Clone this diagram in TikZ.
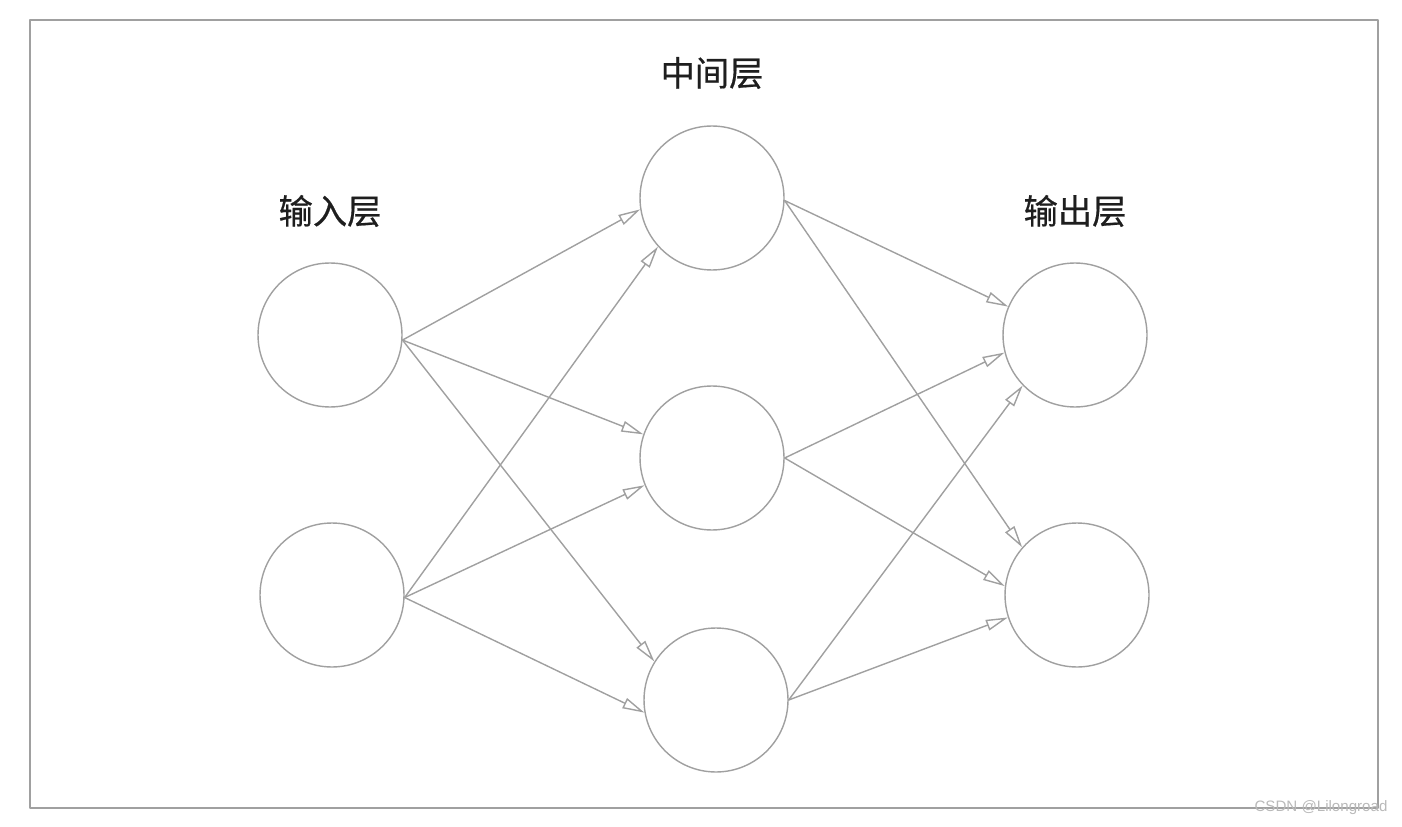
\documentclass[tikz,border=0pt]{standalone}
\usepackage{fontspec}
\newfontfamily\cjk[FakeBold=0.6]{Noto Sans CJK SC}
\setsansfont{Liberation Sans}
\usetikzlibrary{arrows.meta}
\definecolor{linegray}{RGB}{160,160,160}
\definecolor{markgray}{RGB}{185,185,185}
\definecolor{textdark}{RGB}{30,30,30}
\begin{document}
\begin{tikzpicture}[x=0.02cm, y=-0.02cm, line join=round, line cap=round,
		neuron/.style={circle, draw=linegray, line width=0.8pt, minimum size=2.88cm, inner sep=0pt},
		layer/.style={font=\cjk\fontsize{19.5}{19.5}\selectfont, text=textdark},
		link/.style={draw=linegray, line width=0.8pt, -{Triangle[open, length=0.44cm, width=0.22cm]}}]
			\useasboundingbox (0,0) rectangle (1402,827);
			\draw[linegray, line width=0.8pt] (30,20) rectangle (1378,808);
			% layers
			\node[neuron] (i1) at (330,335) {};
			\node[neuron] (i2) at (332,595) {};
			\node[neuron] (h1) at (712,198) {};
			\node[neuron] (h2) at (712,458) {};
			\node[neuron] (h3) at (716,700) {};
			\node[neuron] (o1) at (1075,335) {};
			\node[neuron] (o2) at (1077,595) {};
			\node[layer] (tin) at (330,211) {输入层};
			\node[layer] (tmid) at (712,73) {中间层};
			\node[layer] (tout) at (1075,211) {输出层};
			% connections
			\draw[link] (i1.-4) -- (h1.189);
			\draw[link] (i1.-4) -- (h2.161);
			\draw[link] (i1.-4) -- (h3.148);
			\draw[link] (i2.-2) -- (h1.222);
			\draw[link] (i2.-2) -- (h2.202);
			\draw[link] (i2.-2) -- (h3.190);
			\draw[link] (h1.-2) -- (o1.157);
			\draw[link] (h1.-2) -- (o2.139);
			\draw[link] (h2.0) -- (o1.194);
			\draw[link] (h2.0) -- (o2.173);
			\draw[link] (h3.0) -- (o1.224);
			\draw[link] (h3.0) -- (o2.198);
			\node[font=\sffamily\fontsize{8.6}{8.6}\selectfont, text=markgray] (mark) at (1321,808) {CSDN @Lilongroad};
		\end{tikzpicture}
\end{document}
